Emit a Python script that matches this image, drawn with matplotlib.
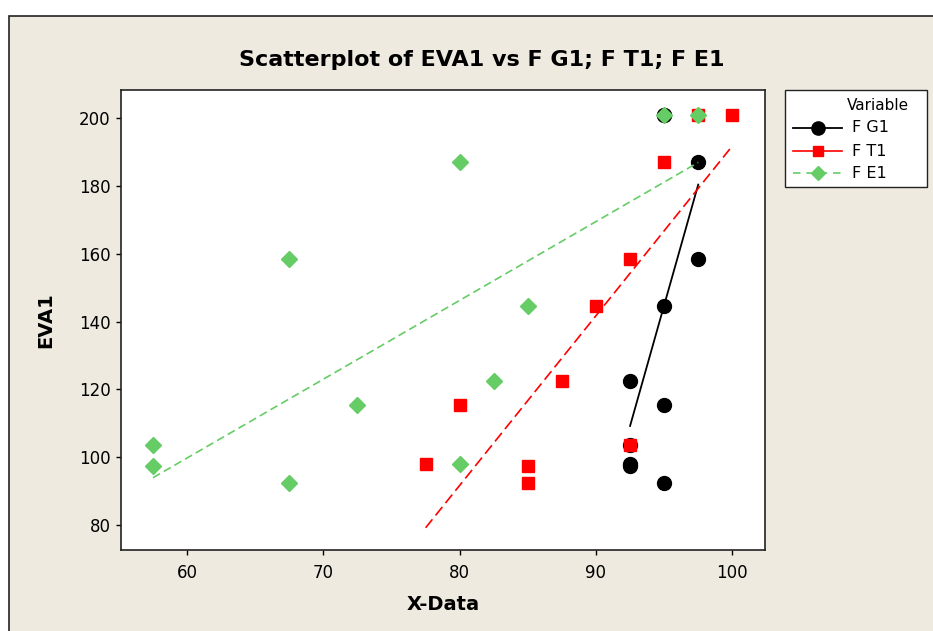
import numpy as np
import matplotlib
matplotlib.use("Agg")
import matplotlib.pyplot as plt
from matplotlib.patches import Rectangle
from matplotlib.lines import Line2D

# ---- data ----
eva1 = [201, 201, 187, 158.5, 144.5, 122.5, 115.5, 103.5, 98, 97.5, 92.5]
f_g1 = [95, 95, 97.5, 97.5, 95, 92.5, 95, 92.5, 92.5, 92.5, 95]
f_t1 = [97.5, 100, 95, 92.5, 90, 87.5, 80, 92.5, 77.5, 85, 85]
f_e1 = [95, 97.5, 80, 67.5, 85, 82.5, 72.5, 57.5, 80, 57.5, 67.5]
series_names = ["F G1", "F T1", "F E1"]
x_ticks = [60, 70, 80, 90, 100]
y_ticks = [80, 100, 120, 140, 160, 180, 200]

W, H = 933, 631
fig = plt.figure(figsize=(W / 100, H / 100), dpi=100)
fig.patch.set_facecolor("white")
bg = Rectangle((8.5 / W, -0.1), 1.2, 1.1 - 15.5 / H, transform=fig.transFigure,
               facecolor="#EEEAE0", edgecolor="#222222", linewidth=1.2, zorder=-10)
fig.patches.append(bg)

left, right, top, bottom = 121, 765, 90, 550
ax = fig.add_axes([left / W, 1 - bottom / H, (right - left) / W, (bottom - top) / H])
ax.set_facecolor("white")

fam = "DejaVu Sans"
GREEN = "#66CC66"
styles = [
    dict(color="black", marker="o", ms=10, lw=1.3, dashes=None),
    dict(color="#FF0000", marker="s", ms=8, lw=1.2, dashes=(6.5, 3)),
    dict(color=GREEN, marker="D", ms=8, lw=1.2, dashes=(4.8, 2.6)),
]
xs_all = [f_g1, f_t1, f_e1]
y = np.asarray(eva1, float)
for xv, st in zip(xs_all, styles):
    ax.plot(xv, eva1, linestyle="none", marker=st["marker"], ms=st["ms"],
            color=st["color"], mec=st["color"], zorder=3)
for xv, st in zip(xs_all, styles):
    x = np.asarray(xv, float)
    b, a = np.polyfit(x, y, 1)
    lx = np.unique(x)
    ln, = ax.plot(lx, a + b * lx, color=st["color"], lw=st["lw"], zorder=4)
    if st["dashes"]:
        ln.set_dashes(st["dashes"])

ax.set_xlim(55.15, 102.4)
ax.set_ylim(72.6, 208.3)
ax.set_xticks(x_ticks)
ax.set_yticks(y_ticks)
ax.tick_params(direction="out", length=3.8, width=1, labelsize=12)
ax.tick_params(axis="x", pad=6.5)
ax.tick_params(axis="y", pad=3.5)
for lab in ax.get_xticklabels() + ax.get_yticklabels():
    lab.set_fontfamily(fam)
for sp in ax.spines.values():
    sp.set_linewidth(1.2)
    sp.set_color("#222222")

ax.set_xlabel("X-Data", fontsize=14, fontweight="bold", family=fam, labelpad=9)
ax.set_ylabel("EVA1", fontsize=14, fontweight="bold", family=fam, labelpad=17)
fig.text(482 / W, 1 - 60 / H, "Scatterplot of EVA1 vs F G1; F T1; F E1",
         ha="center", va="center", fontsize=16, fontweight="bold", family=fam)

# legend (drawn in figure pixel coordinates)
def fx(px):
    return px / W

def fy(py):
    return 1 - py / H

fig.patches.append(Rectangle((fx(785), fy(187)), (927 - 785) / W, (187 - 90) / H,
                             transform=fig.transFigure, facecolor="white",
                             edgecolor="#222222", linewidth=1.0, zorder=5))
fig.text(fx(909), fy(105), "Variable", ha="right", va="center", fontsize=11,
         family=fam, zorder=6)
rows = [128, 151, 173]
for name, st, ry in zip(series_names, styles, rows):
    ln = Line2D([fx(793), fx(842)], [fy(ry), fy(ry)], transform=fig.transFigure,
                color=st["color"], lw=st["lw"], zorder=6)
    if st["color"] == GREEN:
        ln.set_dashes((4.5, 3.5))
    fig.lines.append(ln)
    fig.lines.append(Line2D([fx(817.5)], [fy(ry)], transform=fig.transFigure,
                            marker=st["marker"], ms=st["ms"] * 0.95, color=st["color"],
                            mec=st["color"], linestyle="none", zorder=7))
    fig.text(fx(852), fy(ry), name, ha="left", va="center", fontsize=11.5,
             family=fam, zorder=6)

fig.savefig("out.png", dpi=100, facecolor=fig.get_facecolor())
